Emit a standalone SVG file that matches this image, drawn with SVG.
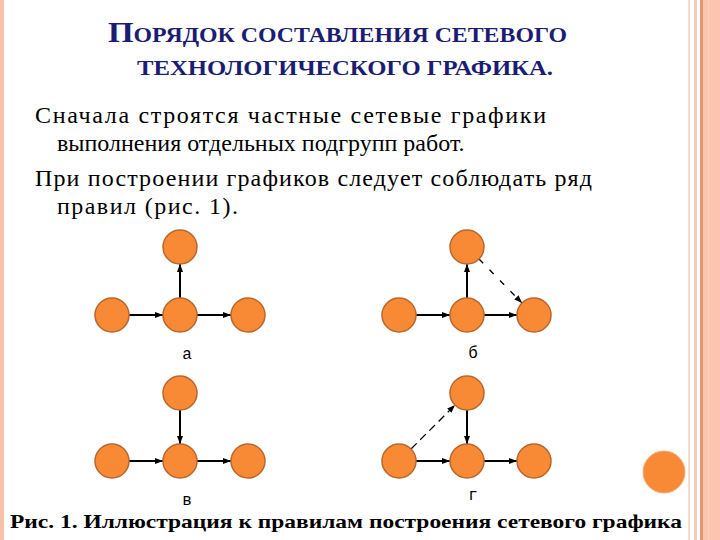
<svg xmlns="http://www.w3.org/2000/svg" width="720" height="540" viewBox="0 0 720 540">
<defs>
<marker id="ah" markerUnits="userSpaceOnUse" markerWidth="9" markerHeight="7" refX="8" refY="3" orient="auto">
<path d="M0,0 L8,3 L0,6 z" fill="#000"/>
</marker>
<style>
.node{fill:#f98a35;stroke:#b8682e;stroke-width:1.5}
.e{stroke:#000;stroke-width:2;fill:none;marker-end:url(#ah)}
.d{stroke:#000;stroke-width:1.3;fill:none;marker-end:url(#ah)}
.title{font-family:'Liberation Serif',serif;font-weight:bold;fill:#1c1c72}
.body{font-family:'Liberation Serif',serif;font-size:24px;fill:#000}
.lbl{font-family:'Liberation Mono',monospace;font-size:16px;fill:#000;text-anchor:middle}
.cap{font-family:'Liberation Serif',serif;font-weight:bold;font-size:19px;fill:#000}
</style>
</defs>
<rect width="720" height="540" fill="#fff"/>
<rect x="0" y="0" width="4" height="540" fill="#f8c2aa"/>
<rect x="688" y="0" width="2" height="540" fill="#f4dccc"/>
<rect x="694" y="0" width="3" height="540" fill="#f2ccb6"/>
<rect x="700" y="0" width="3" height="540" fill="#e8946e"/>
<rect x="703" y="0" width="17" height="540" fill="#fcc6ae"/>
<rect x="708" y="0" width="1" height="540" fill="#f8d2c2"/>

<g id="title">
<text class="title" x="108" y="42" textLength="459" lengthAdjust="spacingAndGlyphs"><tspan font-size="29">П</tspan><tspan font-size="21">ОРЯДОК СОСТАВЛЕНИЯ СЕТЕВОГО</tspan></text>
<text class="title" x="137" y="75" font-size="21" textLength="416" lengthAdjust="spacingAndGlyphs">ТЕХНОЛОГИЧЕСКОГО ГРАФИКА.</text>
</g>

<g id="body">
<text class="body" x="35" y="123" textLength="511" lengthAdjust="spacing">Сначала строятся частные  сетевые графики</text>
<text class="body" x="57" y="151">выполнения отдельных подгрупп работ.</text>
<text class="body" x="35" y="186" textLength="557" lengthAdjust="spacing">При построении графиков следует соблюдать ряд</text>
<text class="body" x="57" y="214" textLength="181" lengthAdjust="spacing">правил (рис. 1).</text>
</g>

<g id="connectors">
<line class="e" x1="129" y1="315" x2="163" y2="315"/>
<line class="e" x1="197" y1="315" x2="231" y2="315"/>
<line class="e" x1="180" y1="298" x2="180" y2="264"/>

<line class="e" x1="416" y1="315" x2="450" y2="315"/>
<line class="e" x1="484" y1="315" x2="517" y2="315"/>
<line class="e" x1="467" y1="298" x2="467" y2="264"/>
<line class="d" x1="479" y1="259" x2="522" y2="303" stroke-dasharray="6 9"/>

<line class="e" x1="129" y1="461" x2="163" y2="461"/>
<line class="e" x1="197" y1="461" x2="231" y2="461"/>
<line class="e" x1="180" y1="410" x2="180" y2="444"/>

<line class="e" x1="416" y1="461" x2="450" y2="461"/>
<line class="e" x1="484" y1="461" x2="517" y2="461"/>
<line class="e" x1="467" y1="410" x2="467" y2="444"/>
<line class="d" x1="411" y1="449" x2="455" y2="405" stroke-dasharray="8 5"/>
</g>

<g id="a-left"><circle class="node" cx="112" cy="315" r="17"/></g>
<g id="a-mid"><circle class="node" cx="180" cy="315" r="17"/></g>
<g id="a-right"><circle class="node" cx="248" cy="315" r="17"/></g>
<g id="a-top"><circle class="node" cx="180" cy="247" r="17"/></g>

<g id="b-left"><circle class="node" cx="399" cy="315" r="17"/></g>
<g id="b-mid"><circle class="node" cx="467" cy="315" r="17"/></g>
<g id="b-right"><circle class="node" cx="534" cy="315" r="17"/></g>
<g id="b-top"><circle class="node" cx="467" cy="247" r="17"/></g>

<g id="v-left"><circle class="node" cx="112" cy="461" r="17"/></g>
<g id="v-mid"><circle class="node" cx="180" cy="461" r="17"/></g>
<g id="v-right"><circle class="node" cx="248" cy="461" r="17"/></g>
<g id="v-top"><circle class="node" cx="180" cy="393" r="17"/></g>

<g id="g-left"><circle class="node" cx="399" cy="461" r="17"/></g>
<g id="g-mid"><circle class="node" cx="467" cy="461" r="17"/></g>
<g id="g-right"><circle class="node" cx="534" cy="461" r="17"/></g>
<g id="g-top"><circle class="node" cx="467" cy="393" r="17"/></g>

<g id="extra"><circle cx="664" cy="472" r="21" fill="#f98a35" stroke="#f6a878" stroke-width="1"/></g>

<g id="labels">
<text class="lbl" x="187" y="359">а</text>
<text class="lbl" x="473" y="358">б</text>
<text class="lbl" x="187" y="505">в</text>
<text class="lbl" x="473" y="500">г</text>
</g>

<text class="cap" x="10" y="528" textLength="672" lengthAdjust="spacingAndGlyphs">Рис. 1. Иллюстрация к правилам построения сетевого графика</text>
</svg>
